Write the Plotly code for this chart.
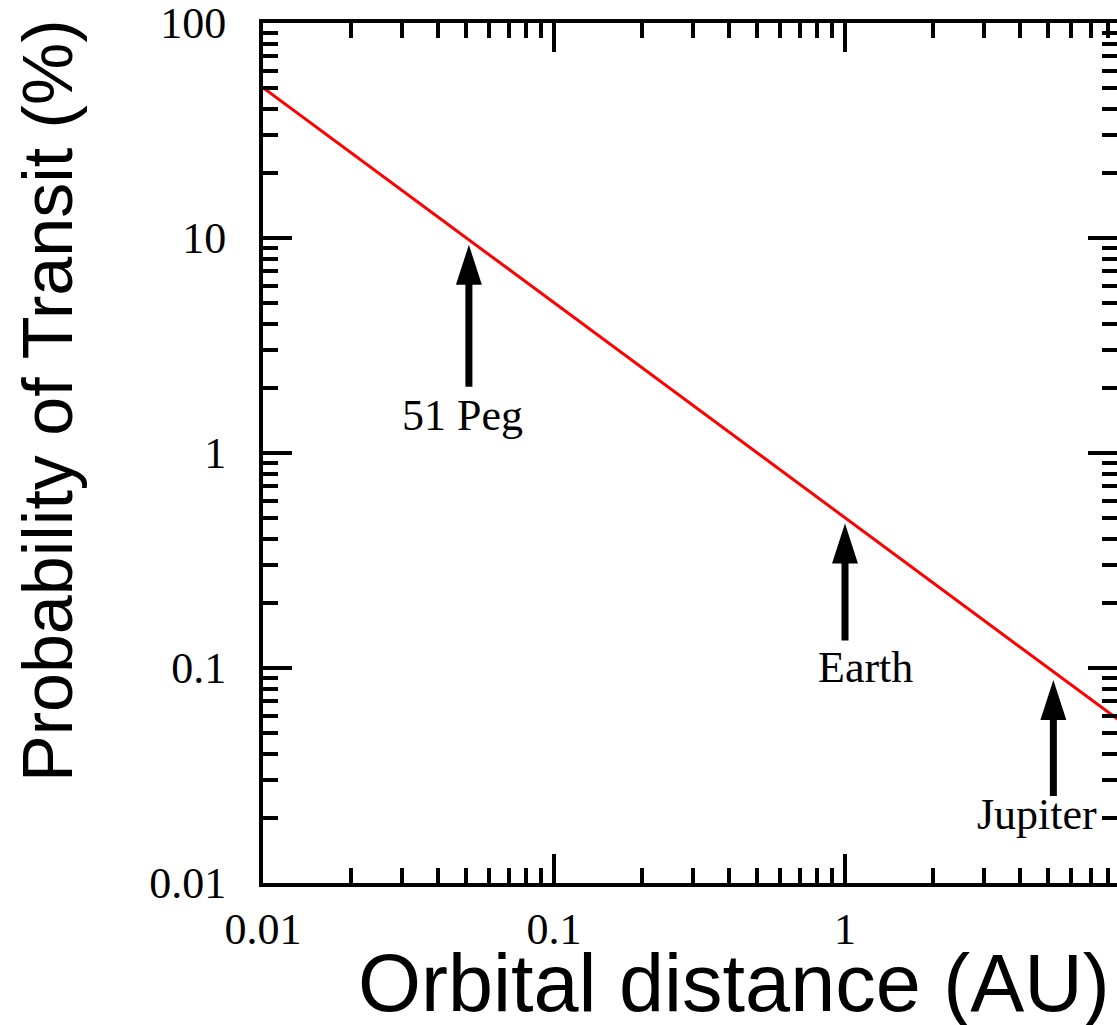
import numpy as np
import plotly.graph_objects as go

# Transit probability vs. orbital distance for a Sun-like star
orbital_distance_au = [0.01, 0.1, 1.0, 10.0]
transit_probability_pct = [50.0, 5.0, 0.5, 0.05]

# Marked planets: where each arrow points and where its tail sits
planet_names = ["51 Peg", "Earth", "Jupiter"]
planet_distance_au = [0.051, 1.0, 5.2]
arrow_tip_pct = [9.3, 0.47, 0.088]
arrow_tail_pct = [2.0, 0.132, 0.025]
label_xshift_px = [-6, 20, -16]
label_yshift_px = [-1, 1, 9]

# Axis ticks
x_tickvals = [0.01, 0.1, 1, 10]
x_ticktext = ["0.01", "0.1", "1", "10"]
y_tickvals = [0.01, 0.1, 1, 10, 100]
y_ticktext = ["0.01", "0.1", "1", "10", "100"]

def minor_vals(lo_exp, hi_exp):
    return [m * 10.0 ** e for e in range(lo_exp, hi_exp) for m in range(2, 10)]

SERIF = "Liberation Serif, Times New Roman, serif"
SANS = "Liberation Sans, Arial, sans-serif"

fig = go.Figure()

fig.add_trace(go.Scatter(
    x=orbital_distance_au, y=transit_probability_pct,
    mode="lines", line=dict(color="#ff0000", width=3),
    showlegend=False, hoverinfo="skip",
))

# Arrowheads
fig.add_trace(go.Scatter(
    x=planet_distance_au, y=arrow_tip_pct, mode="markers",
    marker=dict(symbol="arrow", size=42, color="black", line=dict(width=0)),
    showlegend=False, hoverinfo="skip", cliponaxis=False,
))

axis_common = dict(
    type="log", showgrid=False, zeroline=False,
    showline=True, linecolor="black", linewidth=4,
    ticks="inside", ticklen=29, tickwidth=3.5, tickcolor="black",
    tickfont=dict(family=SERIF, size=44, color="black"),
    ticklabeloverflow="allow",
)

fig.update_xaxes(
    **axis_common,
    range=[-2, -2 + 854 / 291.0],
    mirror="ticks",
    tickvals=x_tickvals, ticktext=x_ticktext,
    ticklabelstandoff=4,
    minor=dict(ticks="inside", ticklen=15, tickwidth=3.5, tickcolor="black",
               tickvals=minor_vals(-2, 1)),
)

fig.update_yaxes(
    **axis_common,
    range=[-2, 2],
    tickvals=y_tickvals, ticktext=y_ticktext,
    ticklabelstandoff=24,
    minor=dict(ticks="inside", ticklen=15, tickwidth=3.5, tickcolor="black",
               tickvals=minor_vals(-2, 2)),
)

# Right-hand ticks without a visible spine
fig.update_layout(yaxis2=dict(
    type="log", range=[-2, 2], overlaying="y", side="right",
    showline=False, showgrid=False, zeroline=False,
    ticks="inside", ticklen=29, tickwidth=3.5, tickcolor="black",
    tickvals=y_tickvals, showticklabels=False,
    minor=dict(ticks="inside", ticklen=15, tickwidth=3.5, tickcolor="black",
               tickvals=minor_vals(-2, 2)),
))
fig.add_trace(go.Scatter(x=[0.01], y=[1], yaxis="y2", mode="markers",
                         marker=dict(opacity=0), showlegend=False, hoverinfo="skip"))

annotations = []
for name, a, tip, tail, dx, dy in zip(planet_names, planet_distance_au, arrow_tip_pct,
                                      arrow_tail_pct, label_xshift_px, label_yshift_px):
    # Shaft of the arrow
    annotations.append(dict(
        x=np.log10(a), y=np.log10(tip), ax=np.log10(a), ay=np.log10(tail),
        xref="x", yref="y", axref="x", ayref="y",
        text="", showarrow=True, arrowhead=0, arrowwidth=7,
        arrowcolor="black", standoff=36,
    ))
    # Planet label under the tail
    annotations.append(dict(
        x=np.log10(a), y=np.log10(tail), xref="x", yref="y",
        text=name, showarrow=False, xanchor="center", yanchor="top",
        xshift=dx, yshift=dy,
        font=dict(family=SERIF, size=44, color="black"),
    ))

# Axis titles
annotations.append(dict(
    text="Orbital distance (AU)", xref="paper", yref="paper",
    x=(734 - 263) / 854.0, y=0, xanchor="center", yanchor="top", yshift=-53,
    showarrow=False, font=dict(family=SANS, size=81, color="black"),
))
annotations.append(dict(
    text="Probability of Transit (%)", xref="paper", yref="paper",
    x=(48 - 263) / 854.0, y=(883 - 401) / 860.0, xanchor="center", yanchor="middle",
    textangle=-90, showarrow=False,
    font=dict(family=SANS, size=70, color="black"),
))

fig.update_layout(
    width=1117, height=1025,
    margin=dict(l=263, r=0, t=23, b=142, pad=0),
    paper_bgcolor="white", plot_bgcolor="white",
    annotations=annotations, showlegend=False,
)

fig.write_html("out.html")
